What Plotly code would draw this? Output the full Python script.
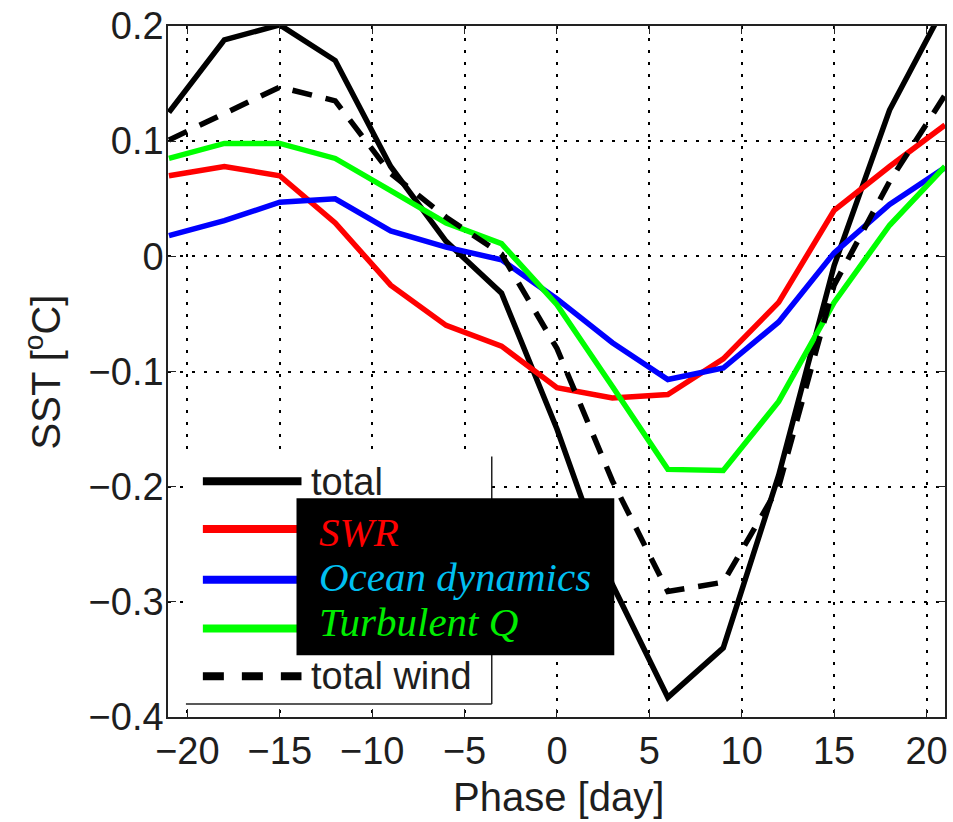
import plotly.graph_objects as go

# ---------------- data ----------------
phase = [-21, -18, -15, -12, -9, -6, -3, 0, 3, 6, 9, 12, 15, 18, 21]
total = [0.125, 0.188, 0.201, 0.170, 0.078, 0.013, -0.032, -0.150, -0.285, -0.383, -0.340, -0.190, -0.008, 0.127, 0.218]
swr = [0.070, 0.078, 0.070, 0.029, -0.025, -0.060, -0.078, -0.114, -0.123, -0.120, -0.089, -0.040, 0.040, 0.078, 0.114]
ocean = [0.018, 0.031, 0.047, 0.050, 0.022, 0.008, -0.003, -0.037, -0.075, -0.107, -0.097, -0.057, 0.003, 0.045, 0.077]
turbulent = [0.085, 0.098, 0.098, 0.085, 0.057, 0.029, 0.011, -0.042, -0.113, -0.185, -0.186, -0.126, -0.040, 0.027, 0.078]
total_wind = [0.101, 0.124, 0.147, 0.135, 0.072, 0.034, 0.002, -0.080, -0.195, -0.291, -0.283, -0.200, -0.025, 0.065, 0.140]

x_ticks = [-20, -15, -10, -5, 0, 5, 10, 15, 20]
x_ticktext = ["\u221220", "\u221215", "\u221210", "\u22125", "0", "5", "10", "15", "20"]
y_ticks = [-0.4, -0.3, -0.2, -0.1, 0, 0.1, 0.2]
y_ticktext = ["\u22120.4", "\u22120.3", "\u22120.2", "\u22120.1", "0", "0.1", "0.2"]

W, H = 953, 822
L, R, T, B = 168, 5, 22, 105
PW, PH = W - L - R, H - T - B


def px(xp):
    return (xp - L) / PW


def py(yp):
    return (H - B - yp) / PH


SANS = "Liberation Sans, Arial, sans-serif"
SERIF = "Liberation Serif, Times New Roman, serif"
TXT = "#1e1e1e"

fig = go.Figure()
lw = 5.5
fig.add_trace(go.Scatter(x=phase, y=total, mode="lines", line=dict(color="#000000", width=lw), name="total"))
fig.add_trace(go.Scatter(x=phase, y=swr, mode="lines", line=dict(color="#ff0000", width=lw), name="SWR"))
fig.add_trace(go.Scatter(x=phase, y=ocean, mode="lines", line=dict(color="#0000ff", width=lw), name="Ocean dynamics"))
fig.add_trace(go.Scatter(x=phase, y=turbulent, mode="lines", line=dict(color="#00ff00", width=lw), name="Turbulent Q"))
fig.add_trace(go.Scatter(x=phase, y=total_wind, mode="lines",
                         line=dict(color="#000000", width=lw, dash="20px,14px"), name="total wind"))

shapes = []
# legend box (white, right & bottom border)
shapes.append(dict(type="rect", xref="paper", yref="paper", x0=px(186), x1=px(493), y0=py(704), y1=py(455),
                   fillcolor="white", line=dict(width=0), layer="above"))
shapes.append(dict(type="line", xref="paper", yref="paper", x0=px(493), x1=px(493), y0=py(704), y1=py(455),
                   line=dict(color="#222222", width=1.5), layer="above"))
shapes.append(dict(type="line", xref="paper", yref="paper", x0=px(186), x1=px(493), y0=py(704), y1=py(704),
                   line=dict(color="#222222", width=1.5), layer="above"))
# legend sample lines
samples = [(480, "#000000", "solid"), (528, "#ff0000", "solid"), (579, "#0000ff", "solid"),
           (628, "#00ff00", "solid"), (676, "#000000", "21px,18px")]
for yy, col, dsh in samples:
    shapes.append(dict(type="line", xref="paper", yref="paper", x0=px(203), x1=px(302), y0=py(yy), y1=py(yy),
                       line=dict(color=col, width=8, dash=dsh), layer="above"))
# black overlay box
shapes.append(dict(type="rect", xref="paper", yref="paper", x0=px(297), x1=px(616), y0=py(655), y1=py(497),
                   fillcolor="black", line=dict(width=0), layer="above"))

annotations = []
annotations.append(dict(xref="paper", yref="paper", x=px(310), y=py(481), text="total", showarrow=False,
                        xanchor="left", yanchor="middle", font=dict(family=SANS, size=38, color=TXT)))
annotations.append(dict(xref="paper", yref="paper", x=px(310), y=py(676), text="total wind", showarrow=False,
                        xanchor="left", yanchor="middle", font=dict(family=SANS, size=38, color=TXT)))
for yy, txt, col in [(531, "SWR", "#ff0000"), (576, "Ocean dynamics", "#00bff0"), (621, "Turbulent Q", "#00ee00")]:
    annotations.append(dict(xref="paper", yref="paper", x=px(318), y=py(yy), text="<i>" + txt + "</i>",
                            showarrow=False, xanchor="left", yanchor="middle",
                            font=dict(family=SERIF, size=41, color=col)))
# axis titles
annotations.append(dict(xref="paper", yref="paper", x=px(560), y=py(797), text="Phase [day]", showarrow=False,
                        xanchor="center", yanchor="middle", font=dict(family=SANS, size=40, color=TXT)))
annotations.append(dict(xref="paper", yref="paper", x=px(43), y=py(370), text="SST [<sup>o</sup>C]",
                        showarrow=False, textangle=-90, xanchor="center", yanchor="middle",
                        font=dict(family=SANS, size=40, color=TXT)))

fig.update_layout(
    width=W, height=H,
    margin=dict(l=L, r=R, t=T, b=B),
    paper_bgcolor="white", plot_bgcolor="white",
    showlegend=False,
    shapes=shapes, annotations=annotations,
    font=dict(family=SANS, color=TXT),
)
axis_common = dict(showline=True, linecolor="#222222", linewidth=1.5, mirror="ticks",
                   ticks="inside", ticklen=8, tickcolor="#222222", tickwidth=1,
                   showgrid=True, gridcolor="#000000", gridwidth=1.5, griddash="3px,9px",
                   zeroline=False, tickfont=dict(family=SANS, size=38, color=TXT))
fig.update_xaxes(range=[-21.05, 21], tickvals=x_ticks, ticktext=x_ticktext, **axis_common)
fig.update_yaxes(range=[-0.4, 0.2], tickvals=y_ticks, ticktext=y_ticktext, ticklabelstandoff=-5, **axis_common)

fig.write_html("out.html", config={"displayModeBar": False},
               post_script="document.body.style.margin='0px';")
